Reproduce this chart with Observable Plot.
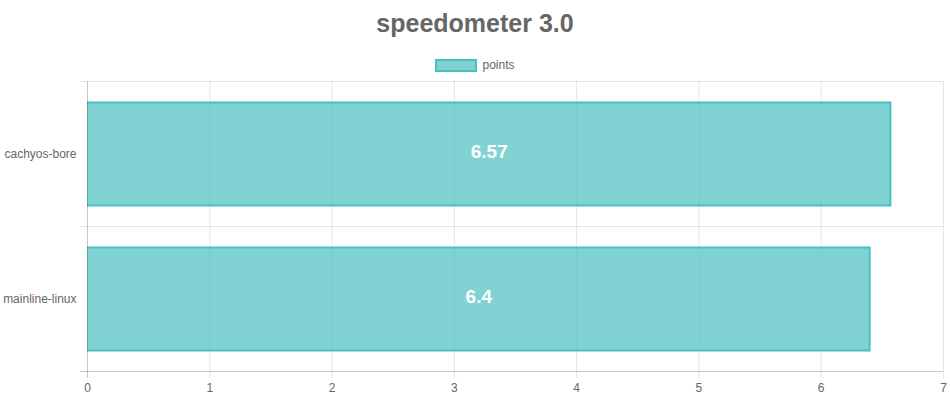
<!DOCTYPE html>
<html>
<head>
<meta charset="utf-8">
<script src="https://cdn.jsdelivr.net/npm/d3@7"></script>
<script src="https://cdn.jsdelivr.net/npm/@observablehq/plot@0.6"></script>
<style>
  html, body { margin: 0; padding: 0; background: #fff; }
  #wrap { width: 950px; height: 400px; position: relative; font-family: "Liberation Sans", Arial, Helvetica, sans-serif; color: #666; }
  #title { height: 46px; line-height: 46px; text-align: center; font-weight: bold; font-size: 25px; color: #666; }
  #legend { height: 32px; box-sizing: border-box; padding-top: 6px; display: flex; justify-content: center; align-items: center; font-size: 12px; color: #666; }
  #legend .box { width: 38px; height: 9px; border: 2px solid rgb(75,192,192); background: rgba(75,192,192,0.7); margin-right: 5px; }
  #chart svg { display: block; }
</style>
</head>
<body>
<div id="wrap">
  <div id="title"></div>
  <div id="legend"><span class="box"></span><span id="legendLabel"></span></div>
  <div id="chart"></div>
</div>
<script>
const title = "speedometer 3.0";
const seriesName = "points";
const categories = ["cachyos-bore", "mainline-linux"];
const values = [6.57, 6.4];
const xTicks = [0, 1, 2, 3, 4, 5, 6, 7];

document.getElementById("title").textContent = title;
document.getElementById("legendLabel").textContent = seriesName;

const data = categories.map((name, i) => ({name, value: values[i]}));

const teal = "rgb(75,192,192)";
const grid = "rgba(0,0,0,0.1)";
const axisLine = "rgba(0,0,0,0.22)";

const chart = Plot.plot({
  width: 950,
  height: 322,
  marginTop: 3,
  marginBottom: 29,
  marginLeft: 87,
  marginRight: 7,
  style: { fontFamily: "'Liberation Sans', Arial, Helvetica, sans-serif", fontSize: "12px", color: "#666", background: "#fff" },
  x: { domain: [0, 7], label: null },
  y: { domain: categories, padding: 0, label: null },
  marks: [
    // vertical grid lines (extend down as tick marks)
    Plot.ruleX(xTicks.slice(1), { stroke: grid, insetBottom: -7 }),
    // horizontal grid lines at band tops (extend left as tick marks)
    Plot.ruleY(categories, { y: d => d, dy: -72.5, stroke: grid, insetLeft: -7 }),
    // bar fill
    Plot.barX(data, {
      x: "value", y: "name",
      fill: teal, fillOpacity: 0.7,
      insetTop: 21.5, insetBottom: 20.5
    }),
    // bar border (left edge skipped: pushed outside the frame and clipped)
    Plot.barX(data, {
      x: "value", y: "name",
      fill: "none", stroke: teal, strokeWidth: 2,
      insetTop: 21.5, insetBottom: 20.5, insetLeft: -6,
      clip: "frame"
    }),
    // zero axis line
    Plot.ruleX([0], { stroke: axisLine, insetBottom: -7 }),
    // bottom axis line
    Plot.ruleY([categories[categories.length - 1]], { y: d => d, dy: 72.5, stroke: axisLine, insetLeft: -7 }),
    // value labels
    Plot.text(data, {
      x: d => d.value / 2, y: "name", text: d => String(d.value),
      fill: "#fff", fontWeight: "bold", fontSize: 19, dy: -2
    }),
    Plot.axisX({ ticks: xTicks, tickSize: 0, tickPadding: 12, tickFormat: d => String(d), fill: "#666", label: null }),
    Plot.axisY({ tickSize: 0, tickPadding: 11, fill: "#666", label: null })
  ]
});
document.getElementById("chart").appendChild(chart);
</script>
</body>
</html>
